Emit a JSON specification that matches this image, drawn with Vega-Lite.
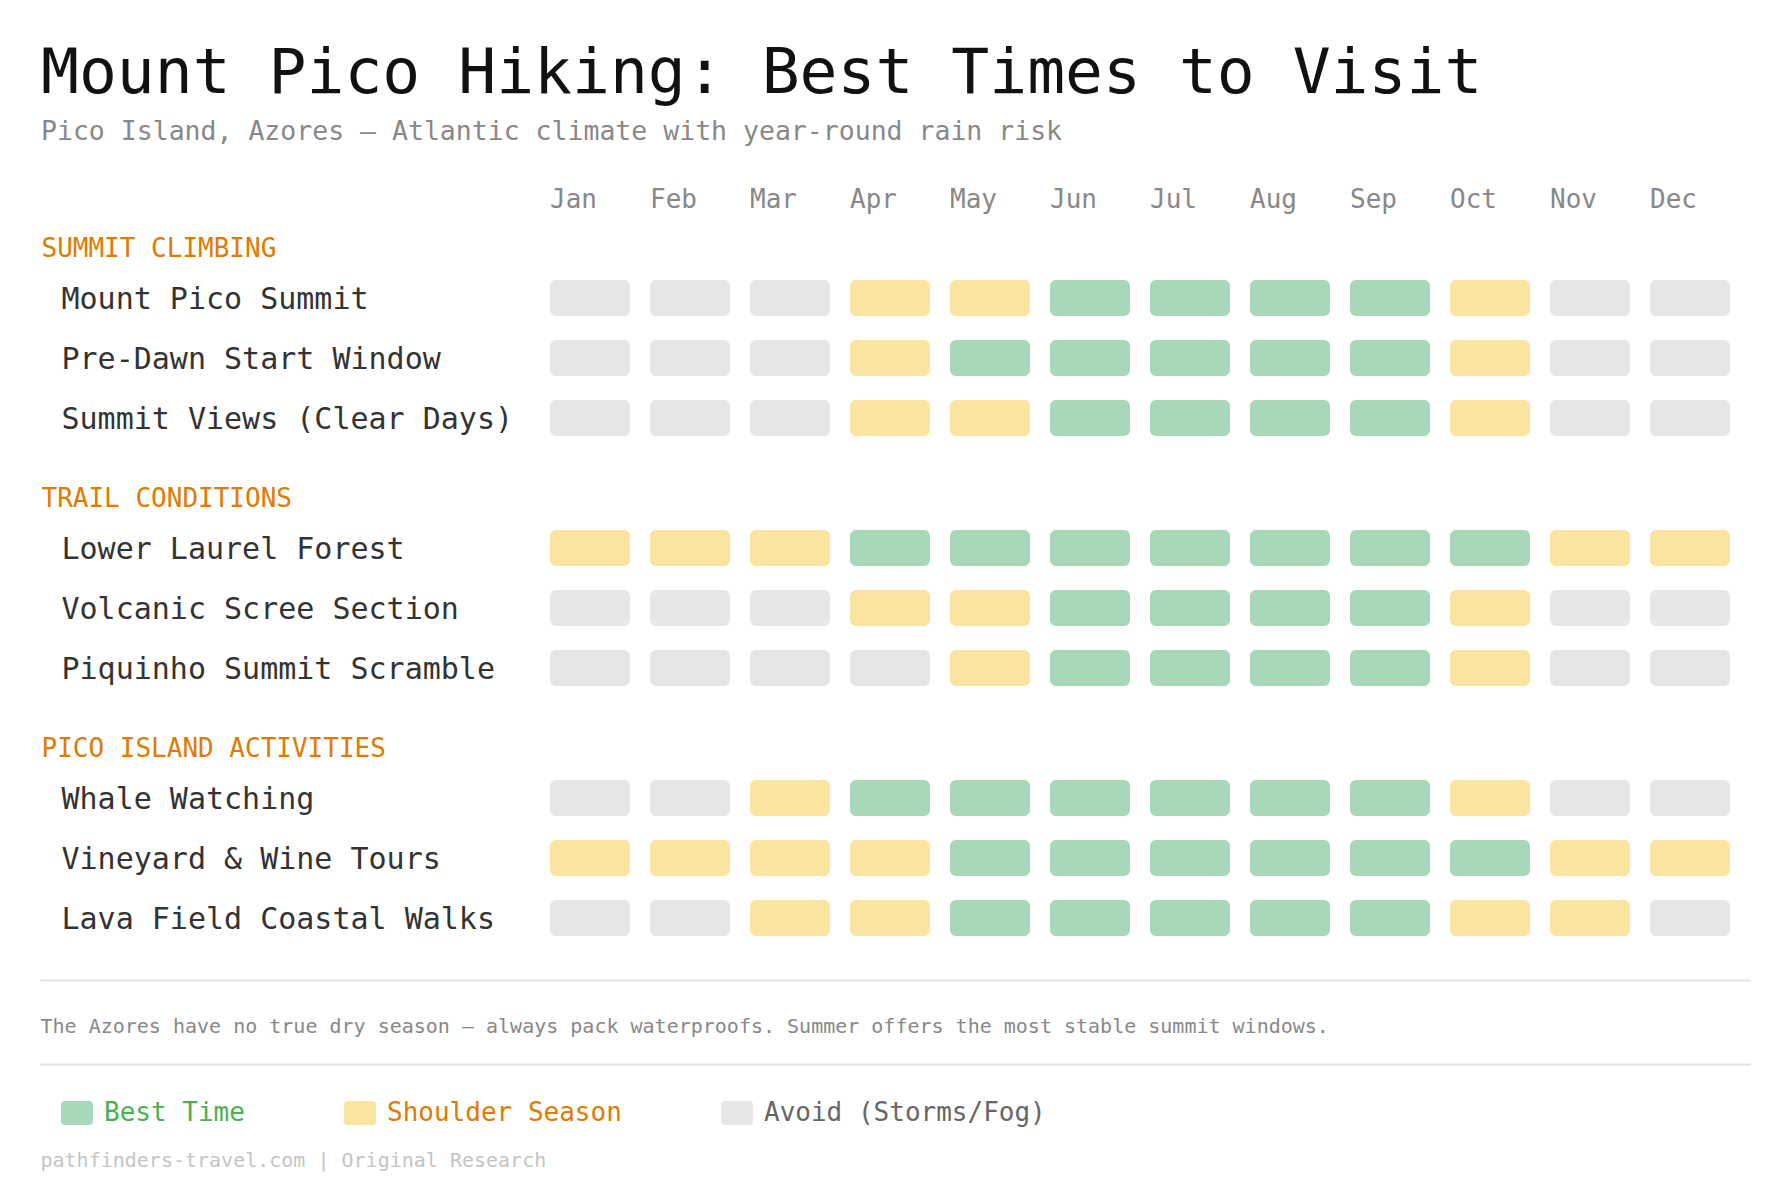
{
  "$schema": "https://vega.github.io/schema/vega-lite/v6.json",
  "width": 1180,
  "height": 680,
  "autosize": {"type": "none"},
  "padding": {"left": 550, "top": 268, "right": 60, "bottom": 256},
  "background": "#ffffff",
  "config": {"font": "DejaVu Sans Mono", "view": {"stroke": null}},
  "title": {
    "text": "Mount Pico Hiking: Best Times to Visit",
    "subtitle": "Pico Island, Azores — Atlantic climate with year-round rain risk",
    "anchor": "start",
    "frame": "group",
    "dx": -509,
    "font": "DejaVu Sans Mono",
    "fontSize": 63,
    "fontWeight": "normal",
    "color": "#111111",
    "subtitleFont": "DejaVu Sans Mono",
    "subtitleFontSize": 26.5,
    "subtitleColor": "#888888",
    "subtitlePadding": 13,
    "offset": 41
  },
  "data": {
    "values": [
      {"group": "SUMMIT CLIMBING", "activity": "Mount Pico Summit", "month": "Jan", "status": "Avoid (Storms/Fog)"},
      {"group": "SUMMIT CLIMBING", "activity": "Mount Pico Summit", "month": "Feb", "status": "Avoid (Storms/Fog)"},
      {"group": "SUMMIT CLIMBING", "activity": "Mount Pico Summit", "month": "Mar", "status": "Avoid (Storms/Fog)"},
      {"group": "SUMMIT CLIMBING", "activity": "Mount Pico Summit", "month": "Apr", "status": "Shoulder Season"},
      {"group": "SUMMIT CLIMBING", "activity": "Mount Pico Summit", "month": "May", "status": "Shoulder Season"},
      {"group": "SUMMIT CLIMBING", "activity": "Mount Pico Summit", "month": "Jun", "status": "Best Time"},
      {"group": "SUMMIT CLIMBING", "activity": "Mount Pico Summit", "month": "Jul", "status": "Best Time"},
      {"group": "SUMMIT CLIMBING", "activity": "Mount Pico Summit", "month": "Aug", "status": "Best Time"},
      {"group": "SUMMIT CLIMBING", "activity": "Mount Pico Summit", "month": "Sep", "status": "Best Time"},
      {"group": "SUMMIT CLIMBING", "activity": "Mount Pico Summit", "month": "Oct", "status": "Shoulder Season"},
      {"group": "SUMMIT CLIMBING", "activity": "Mount Pico Summit", "month": "Nov", "status": "Avoid (Storms/Fog)"},
      {"group": "SUMMIT CLIMBING", "activity": "Mount Pico Summit", "month": "Dec", "status": "Avoid (Storms/Fog)"},
      {"group": "SUMMIT CLIMBING", "activity": "Pre-Dawn Start Window", "month": "Jan", "status": "Avoid (Storms/Fog)"},
      {"group": "SUMMIT CLIMBING", "activity": "Pre-Dawn Start Window", "month": "Feb", "status": "Avoid (Storms/Fog)"},
      {"group": "SUMMIT CLIMBING", "activity": "Pre-Dawn Start Window", "month": "Mar", "status": "Avoid (Storms/Fog)"},
      {"group": "SUMMIT CLIMBING", "activity": "Pre-Dawn Start Window", "month": "Apr", "status": "Shoulder Season"},
      {"group": "SUMMIT CLIMBING", "activity": "Pre-Dawn Start Window", "month": "May", "status": "Best Time"},
      {"group": "SUMMIT CLIMBING", "activity": "Pre-Dawn Start Window", "month": "Jun", "status": "Best Time"},
      {"group": "SUMMIT CLIMBING", "activity": "Pre-Dawn Start Window", "month": "Jul", "status": "Best Time"},
      {"group": "SUMMIT CLIMBING", "activity": "Pre-Dawn Start Window", "month": "Aug", "status": "Best Time"},
      {"group": "SUMMIT CLIMBING", "activity": "Pre-Dawn Start Window", "month": "Sep", "status": "Best Time"},
      {"group": "SUMMIT CLIMBING", "activity": "Pre-Dawn Start Window", "month": "Oct", "status": "Shoulder Season"},
      {"group": "SUMMIT CLIMBING", "activity": "Pre-Dawn Start Window", "month": "Nov", "status": "Avoid (Storms/Fog)"},
      {"group": "SUMMIT CLIMBING", "activity": "Pre-Dawn Start Window", "month": "Dec", "status": "Avoid (Storms/Fog)"},
      {"group": "SUMMIT CLIMBING", "activity": "Summit Views (Clear Days)", "month": "Jan", "status": "Avoid (Storms/Fog)"},
      {"group": "SUMMIT CLIMBING", "activity": "Summit Views (Clear Days)", "month": "Feb", "status": "Avoid (Storms/Fog)"},
      {"group": "SUMMIT CLIMBING", "activity": "Summit Views (Clear Days)", "month": "Mar", "status": "Avoid (Storms/Fog)"},
      {"group": "SUMMIT CLIMBING", "activity": "Summit Views (Clear Days)", "month": "Apr", "status": "Shoulder Season"},
      {"group": "SUMMIT CLIMBING", "activity": "Summit Views (Clear Days)", "month": "May", "status": "Shoulder Season"},
      {"group": "SUMMIT CLIMBING", "activity": "Summit Views (Clear Days)", "month": "Jun", "status": "Best Time"},
      {"group": "SUMMIT CLIMBING", "activity": "Summit Views (Clear Days)", "month": "Jul", "status": "Best Time"},
      {"group": "SUMMIT CLIMBING", "activity": "Summit Views (Clear Days)", "month": "Aug", "status": "Best Time"},
      {"group": "SUMMIT CLIMBING", "activity": "Summit Views (Clear Days)", "month": "Sep", "status": "Best Time"},
      {"group": "SUMMIT CLIMBING", "activity": "Summit Views (Clear Days)", "month": "Oct", "status": "Shoulder Season"},
      {"group": "SUMMIT CLIMBING", "activity": "Summit Views (Clear Days)", "month": "Nov", "status": "Avoid (Storms/Fog)"},
      {"group": "SUMMIT CLIMBING", "activity": "Summit Views (Clear Days)", "month": "Dec", "status": "Avoid (Storms/Fog)"},
      {"group": "TRAIL CONDITIONS", "activity": "Lower Laurel Forest", "month": "Jan", "status": "Shoulder Season"},
      {"group": "TRAIL CONDITIONS", "activity": "Lower Laurel Forest", "month": "Feb", "status": "Shoulder Season"},
      {"group": "TRAIL CONDITIONS", "activity": "Lower Laurel Forest", "month": "Mar", "status": "Shoulder Season"},
      {"group": "TRAIL CONDITIONS", "activity": "Lower Laurel Forest", "month": "Apr", "status": "Best Time"},
      {"group": "TRAIL CONDITIONS", "activity": "Lower Laurel Forest", "month": "May", "status": "Best Time"},
      {"group": "TRAIL CONDITIONS", "activity": "Lower Laurel Forest", "month": "Jun", "status": "Best Time"},
      {"group": "TRAIL CONDITIONS", "activity": "Lower Laurel Forest", "month": "Jul", "status": "Best Time"},
      {"group": "TRAIL CONDITIONS", "activity": "Lower Laurel Forest", "month": "Aug", "status": "Best Time"},
      {"group": "TRAIL CONDITIONS", "activity": "Lower Laurel Forest", "month": "Sep", "status": "Best Time"},
      {"group": "TRAIL CONDITIONS", "activity": "Lower Laurel Forest", "month": "Oct", "status": "Best Time"},
      {"group": "TRAIL CONDITIONS", "activity": "Lower Laurel Forest", "month": "Nov", "status": "Shoulder Season"},
      {"group": "TRAIL CONDITIONS", "activity": "Lower Laurel Forest", "month": "Dec", "status": "Shoulder Season"},
      {"group": "TRAIL CONDITIONS", "activity": "Volcanic Scree Section", "month": "Jan", "status": "Avoid (Storms/Fog)"},
      {"group": "TRAIL CONDITIONS", "activity": "Volcanic Scree Section", "month": "Feb", "status": "Avoid (Storms/Fog)"},
      {"group": "TRAIL CONDITIONS", "activity": "Volcanic Scree Section", "month": "Mar", "status": "Avoid (Storms/Fog)"},
      {"group": "TRAIL CONDITIONS", "activity": "Volcanic Scree Section", "month": "Apr", "status": "Shoulder Season"},
      {"group": "TRAIL CONDITIONS", "activity": "Volcanic Scree Section", "month": "May", "status": "Shoulder Season"},
      {"group": "TRAIL CONDITIONS", "activity": "Volcanic Scree Section", "month": "Jun", "status": "Best Time"},
      {"group": "TRAIL CONDITIONS", "activity": "Volcanic Scree Section", "month": "Jul", "status": "Best Time"},
      {"group": "TRAIL CONDITIONS", "activity": "Volcanic Scree Section", "month": "Aug", "status": "Best Time"},
      {"group": "TRAIL CONDITIONS", "activity": "Volcanic Scree Section", "month": "Sep", "status": "Best Time"},
      {"group": "TRAIL CONDITIONS", "activity": "Volcanic Scree Section", "month": "Oct", "status": "Shoulder Season"},
      {"group": "TRAIL CONDITIONS", "activity": "Volcanic Scree Section", "month": "Nov", "status": "Avoid (Storms/Fog)"},
      {"group": "TRAIL CONDITIONS", "activity": "Volcanic Scree Section", "month": "Dec", "status": "Avoid (Storms/Fog)"},
      {"group": "TRAIL CONDITIONS", "activity": "Piquinho Summit Scramble", "month": "Jan", "status": "Avoid (Storms/Fog)"},
      {"group": "TRAIL CONDITIONS", "activity": "Piquinho Summit Scramble", "month": "Feb", "status": "Avoid (Storms/Fog)"},
      {"group": "TRAIL CONDITIONS", "activity": "Piquinho Summit Scramble", "month": "Mar", "status": "Avoid (Storms/Fog)"},
      {"group": "TRAIL CONDITIONS", "activity": "Piquinho Summit Scramble", "month": "Apr", "status": "Avoid (Storms/Fog)"},
      {"group": "TRAIL CONDITIONS", "activity": "Piquinho Summit Scramble", "month": "May", "status": "Shoulder Season"},
      {"group": "TRAIL CONDITIONS", "activity": "Piquinho Summit Scramble", "month": "Jun", "status": "Best Time"},
      {"group": "TRAIL CONDITIONS", "activity": "Piquinho Summit Scramble", "month": "Jul", "status": "Best Time"},
      {"group": "TRAIL CONDITIONS", "activity": "Piquinho Summit Scramble", "month": "Aug", "status": "Best Time"},
      {"group": "TRAIL CONDITIONS", "activity": "Piquinho Summit Scramble", "month": "Sep", "status": "Best Time"},
      {"group": "TRAIL CONDITIONS", "activity": "Piquinho Summit Scramble", "month": "Oct", "status": "Shoulder Season"},
      {"group": "TRAIL CONDITIONS", "activity": "Piquinho Summit Scramble", "month": "Nov", "status": "Avoid (Storms/Fog)"},
      {"group": "TRAIL CONDITIONS", "activity": "Piquinho Summit Scramble", "month": "Dec", "status": "Avoid (Storms/Fog)"},
      {"group": "PICO ISLAND ACTIVITIES", "activity": "Whale Watching", "month": "Jan", "status": "Avoid (Storms/Fog)"},
      {"group": "PICO ISLAND ACTIVITIES", "activity": "Whale Watching", "month": "Feb", "status": "Avoid (Storms/Fog)"},
      {"group": "PICO ISLAND ACTIVITIES", "activity": "Whale Watching", "month": "Mar", "status": "Shoulder Season"},
      {"group": "PICO ISLAND ACTIVITIES", "activity": "Whale Watching", "month": "Apr", "status": "Best Time"},
      {"group": "PICO ISLAND ACTIVITIES", "activity": "Whale Watching", "month": "May", "status": "Best Time"},
      {"group": "PICO ISLAND ACTIVITIES", "activity": "Whale Watching", "month": "Jun", "status": "Best Time"},
      {"group": "PICO ISLAND ACTIVITIES", "activity": "Whale Watching", "month": "Jul", "status": "Best Time"},
      {"group": "PICO ISLAND ACTIVITIES", "activity": "Whale Watching", "month": "Aug", "status": "Best Time"},
      {"group": "PICO ISLAND ACTIVITIES", "activity": "Whale Watching", "month": "Sep", "status": "Best Time"},
      {"group": "PICO ISLAND ACTIVITIES", "activity": "Whale Watching", "month": "Oct", "status": "Shoulder Season"},
      {"group": "PICO ISLAND ACTIVITIES", "activity": "Whale Watching", "month": "Nov", "status": "Avoid (Storms/Fog)"},
      {"group": "PICO ISLAND ACTIVITIES", "activity": "Whale Watching", "month": "Dec", "status": "Avoid (Storms/Fog)"},
      {"group": "PICO ISLAND ACTIVITIES", "activity": "Vineyard & Wine Tours", "month": "Jan", "status": "Shoulder Season"},
      {"group": "PICO ISLAND ACTIVITIES", "activity": "Vineyard & Wine Tours", "month": "Feb", "status": "Shoulder Season"},
      {"group": "PICO ISLAND ACTIVITIES", "activity": "Vineyard & Wine Tours", "month": "Mar", "status": "Shoulder Season"},
      {"group": "PICO ISLAND ACTIVITIES", "activity": "Vineyard & Wine Tours", "month": "Apr", "status": "Shoulder Season"},
      {"group": "PICO ISLAND ACTIVITIES", "activity": "Vineyard & Wine Tours", "month": "May", "status": "Best Time"},
      {"group": "PICO ISLAND ACTIVITIES", "activity": "Vineyard & Wine Tours", "month": "Jun", "status": "Best Time"},
      {"group": "PICO ISLAND ACTIVITIES", "activity": "Vineyard & Wine Tours", "month": "Jul", "status": "Best Time"},
      {"group": "PICO ISLAND ACTIVITIES", "activity": "Vineyard & Wine Tours", "month": "Aug", "status": "Best Time"},
      {"group": "PICO ISLAND ACTIVITIES", "activity": "Vineyard & Wine Tours", "month": "Sep", "status": "Best Time"},
      {"group": "PICO ISLAND ACTIVITIES", "activity": "Vineyard & Wine Tours", "month": "Oct", "status": "Best Time"},
      {"group": "PICO ISLAND ACTIVITIES", "activity": "Vineyard & Wine Tours", "month": "Nov", "status": "Shoulder Season"},
      {"group": "PICO ISLAND ACTIVITIES", "activity": "Vineyard & Wine Tours", "month": "Dec", "status": "Shoulder Season"},
      {"group": "PICO ISLAND ACTIVITIES", "activity": "Lava Field Coastal Walks", "month": "Jan", "status": "Avoid (Storms/Fog)"},
      {"group": "PICO ISLAND ACTIVITIES", "activity": "Lava Field Coastal Walks", "month": "Feb", "status": "Avoid (Storms/Fog)"},
      {"group": "PICO ISLAND ACTIVITIES", "activity": "Lava Field Coastal Walks", "month": "Mar", "status": "Shoulder Season"},
      {"group": "PICO ISLAND ACTIVITIES", "activity": "Lava Field Coastal Walks", "month": "Apr", "status": "Shoulder Season"},
      {"group": "PICO ISLAND ACTIVITIES", "activity": "Lava Field Coastal Walks", "month": "May", "status": "Best Time"},
      {"group": "PICO ISLAND ACTIVITIES", "activity": "Lava Field Coastal Walks", "month": "Jun", "status": "Best Time"},
      {"group": "PICO ISLAND ACTIVITIES", "activity": "Lava Field Coastal Walks", "month": "Jul", "status": "Best Time"},
      {"group": "PICO ISLAND ACTIVITIES", "activity": "Lava Field Coastal Walks", "month": "Aug", "status": "Best Time"},
      {"group": "PICO ISLAND ACTIVITIES", "activity": "Lava Field Coastal Walks", "month": "Sep", "status": "Best Time"},
      {"group": "PICO ISLAND ACTIVITIES", "activity": "Lava Field Coastal Walks", "month": "Oct", "status": "Shoulder Season"},
      {"group": "PICO ISLAND ACTIVITIES", "activity": "Lava Field Coastal Walks", "month": "Nov", "status": "Shoulder Season"},
      {"group": "PICO ISLAND ACTIVITIES", "activity": "Lava Field Coastal Walks", "month": "Dec", "status": "Avoid (Storms/Fog)"}
    ]
  },
  "layer": [
    {
      "transform": [{"filter": "datum.group === 'SUMMIT CLIMBING'"}],
      "mark": {"type": "rect", "cornerRadius": 6},
      "encoding": {
        "x": {"field": "month", "type": "nominal", "sort": null,
          "scale": {"paddingInner": 0.2, "paddingOuter": 0},
          "axis": {"orient": "top", "labelAlign": "left", "labelOffset": -40, "labelBaseline": "alphabetic", "labelPadding": 61, "labelAngle": 0, "labelFont": "DejaVu Sans Mono", "labelFontSize": 26, "labelColor": "#888888", "domain": false, "ticks": false, "grid": false, "title": null}},
        "y": {"field": "activity", "type": "nominal", "sort": null,
          "scale": {"range": [0, 180], "paddingInner": 0.4, "paddingOuter": 0.2},
          "axis": {"orient": "left", "labelAlign": "left", "labelPadding": 489, "labelOffset": 2, "labelFont": "DejaVu Sans Mono", "labelFontSize": 30, "labelColor": "#333333", "labelLimit": 1000, "labelBaseline": "middle", "domain": false, "ticks": false, "grid": false,
            "title": "SUMMIT CLIMBING", "titleAngle": 0, "titleAlign": "left", "titleBaseline": "alphabetic", "titleX": -509, "titleY": -12, "titleFont": "DejaVu Sans Mono", "titleFontSize": 26, "titleColor": "#E07B00", "titleFontWeight": "normal", "titleLimit": 1000}},
        "color": {"field": "status", "type": "nominal",
          "scale": {"domain": ["Best Time", "Shoulder Season", "Avoid (Storms/Fog)"], "range": ["#A8D8B8", "#FBE49F", "#E6E6E6"]},
          "legend": {"orient": "none", "legendX": -486, "legendY": 832, "direction": "horizontal", "title": null, "padding": 0,
            "symbolType": "M-1,-1H1Q1.333,-1,1.333,-0.667V0.667Q1.333,1,1,1H-1Q-1.333,1,-1.333,0.667V-0.667Q-1.333,-1,-1,-1Z",
            "symbolSize": 576, "symbolStrokeWidth": 0, "symbolOpacity": 1,
            "labelFont": "DejaVu Sans Mono", "labelFontSize": 26, "labelOffset": 14, "columnPadding": 99, "labelLimit": 1000,
            "labelColor": {"expr": "datum.label === 'Best Time' ? '#4CAF50' : datum.label === 'Shoulder Season' ? '#E07B00' : '#666666'"}}}
      }
    },
    {
      "transform": [{"filter": "datum.group === 'TRAIL CONDITIONS'"}],
      "mark": {"type": "rect", "cornerRadius": 6},
      "encoding": {
        "x": {"field": "month", "type": "nominal", "sort": null,
          "scale": {"paddingInner": 0.2, "paddingOuter": 0}, "axis": null},
        "y": {"field": "activity", "type": "nominal", "sort": null,
          "scale": {"range": [250, 430], "paddingInner": 0.4, "paddingOuter": 0.2},
          "axis": {"orient": "left", "labelAlign": "left", "labelPadding": 489, "labelOffset": 2, "labelFont": "DejaVu Sans Mono", "labelFontSize": 30, "labelColor": "#333333", "labelLimit": 1000, "labelBaseline": "middle", "domain": false, "ticks": false, "grid": false,
            "title": "TRAIL CONDITIONS", "titleAngle": 0, "titleAlign": "left", "titleBaseline": "alphabetic", "titleX": -509, "titleY": 238, "titleFont": "DejaVu Sans Mono", "titleFontSize": 26, "titleColor": "#E07B00", "titleFontWeight": "normal", "titleLimit": 1000}},
        "color": {"field": "status", "type": "nominal",
          "scale": {"domain": ["Best Time", "Shoulder Season", "Avoid (Storms/Fog)"], "range": ["#A8D8B8", "#FBE49F", "#E6E6E6"]},
          "legend": {"orient": "none", "legendX": -486, "legendY": 832, "direction": "horizontal", "title": null, "padding": 0,
            "symbolType": "M-1,-1H1Q1.333,-1,1.333,-0.667V0.667Q1.333,1,1,1H-1Q-1.333,1,-1.333,0.667V-0.667Q-1.333,-1,-1,-1Z",
            "symbolSize": 576, "symbolStrokeWidth": 0, "symbolOpacity": 1,
            "labelFont": "DejaVu Sans Mono", "labelFontSize": 26, "labelOffset": 14, "columnPadding": 99, "labelLimit": 1000,
            "labelColor": {"expr": "datum.label === 'Best Time' ? '#4CAF50' : datum.label === 'Shoulder Season' ? '#E07B00' : '#666666'"}}}
      }
    },
    {
      "transform": [{"filter": "datum.group === 'PICO ISLAND ACTIVITIES'"}],
      "mark": {"type": "rect", "cornerRadius": 6},
      "encoding": {
        "x": {"field": "month", "type": "nominal", "sort": null,
          "scale": {"paddingInner": 0.2, "paddingOuter": 0}, "axis": null},
        "y": {"field": "activity", "type": "nominal", "sort": null,
          "scale": {"range": [500, 680], "paddingInner": 0.4, "paddingOuter": 0.2},
          "axis": {"orient": "left", "labelAlign": "left", "labelPadding": 489, "labelOffset": 2, "labelFont": "DejaVu Sans Mono", "labelFontSize": 30, "labelColor": "#333333", "labelLimit": 1000, "labelBaseline": "middle", "domain": false, "ticks": false, "grid": false,
            "title": "PICO ISLAND ACTIVITIES", "titleAngle": 0, "titleAlign": "left", "titleBaseline": "alphabetic", "titleX": -509, "titleY": 488, "titleFont": "DejaVu Sans Mono", "titleFontSize": 26, "titleColor": "#E07B00", "titleFontWeight": "normal", "titleLimit": 1000}},
        "color": {"field": "status", "type": "nominal",
          "scale": {"domain": ["Best Time", "Shoulder Season", "Avoid (Storms/Fog)"], "range": ["#A8D8B8", "#FBE49F", "#E6E6E6"]},
          "legend": {"orient": "none", "legendX": -486, "legendY": 832, "direction": "horizontal", "title": null, "padding": 0,
            "symbolType": "M-1,-1H1Q1.333,-1,1.333,-0.667V0.667Q1.333,1,1,1H-1Q-1.333,1,-1.333,0.667V-0.667Q-1.333,-1,-1,-1Z",
            "symbolSize": 576, "symbolStrokeWidth": 0, "symbolOpacity": 1,
            "labelFont": "DejaVu Sans Mono", "labelFontSize": 26, "labelOffset": 14, "columnPadding": 99, "labelLimit": 1000,
            "labelColor": {"expr": "datum.label === 'Best Time' ? '#4CAF50' : datum.label === 'Shoulder Season' ? '#E07B00' : '#666666'"}}}
      }
    },
    {
      "mark": {"type": "rule", "opacity": 0},
      "encoding": {
        "x": {"field": "month", "type": "nominal", "sort": null,
          "scale": {"range": [-510, 1200]},
          "axis": {"orient": "bottom", "offset": 32, "domain": true, "domainColor": "#E2E2E2", "domainWidth": 2, "labels": false, "ticks": false, "grid": false,
            "title": "The Azores have no true dry season — always pack waterproofs. Summer offers the most stable summit windows.",
            "titleAnchor": "start", "titlePadding": 36, "titleFont": "DejaVu Sans Mono", "titleFontSize": 20, "titleColor": "#888888", "titleFontWeight": "normal", "titleLimit": 2000}}
      }
    },
    {
      "mark": {"type": "rule", "opacity": 0},
      "encoding": {
        "x": {"field": "month", "type": "nominal", "sort": null,
          "scale": {"range": [-510, 1200]},
          "axis": {"orient": "bottom", "offset": 116, "domain": true, "domainColor": "#E2E2E2", "domainWidth": 2, "labels": false, "ticks": false, "grid": false,
            "title": "pathfinders-travel.com | Original Research",
            "titleAnchor": "start", "titlePadding": 86, "titleFont": "DejaVu Sans Mono", "titleFontSize": 20, "titleColor": "#C4C4C4", "titleFontWeight": "normal", "titleLimit": 2000}}
      }
    }
  ],
  "resolve": {"scale": {"x": "independent", "y": "independent"}, "axis": {"x": "independent", "y": "independent"}}
}
